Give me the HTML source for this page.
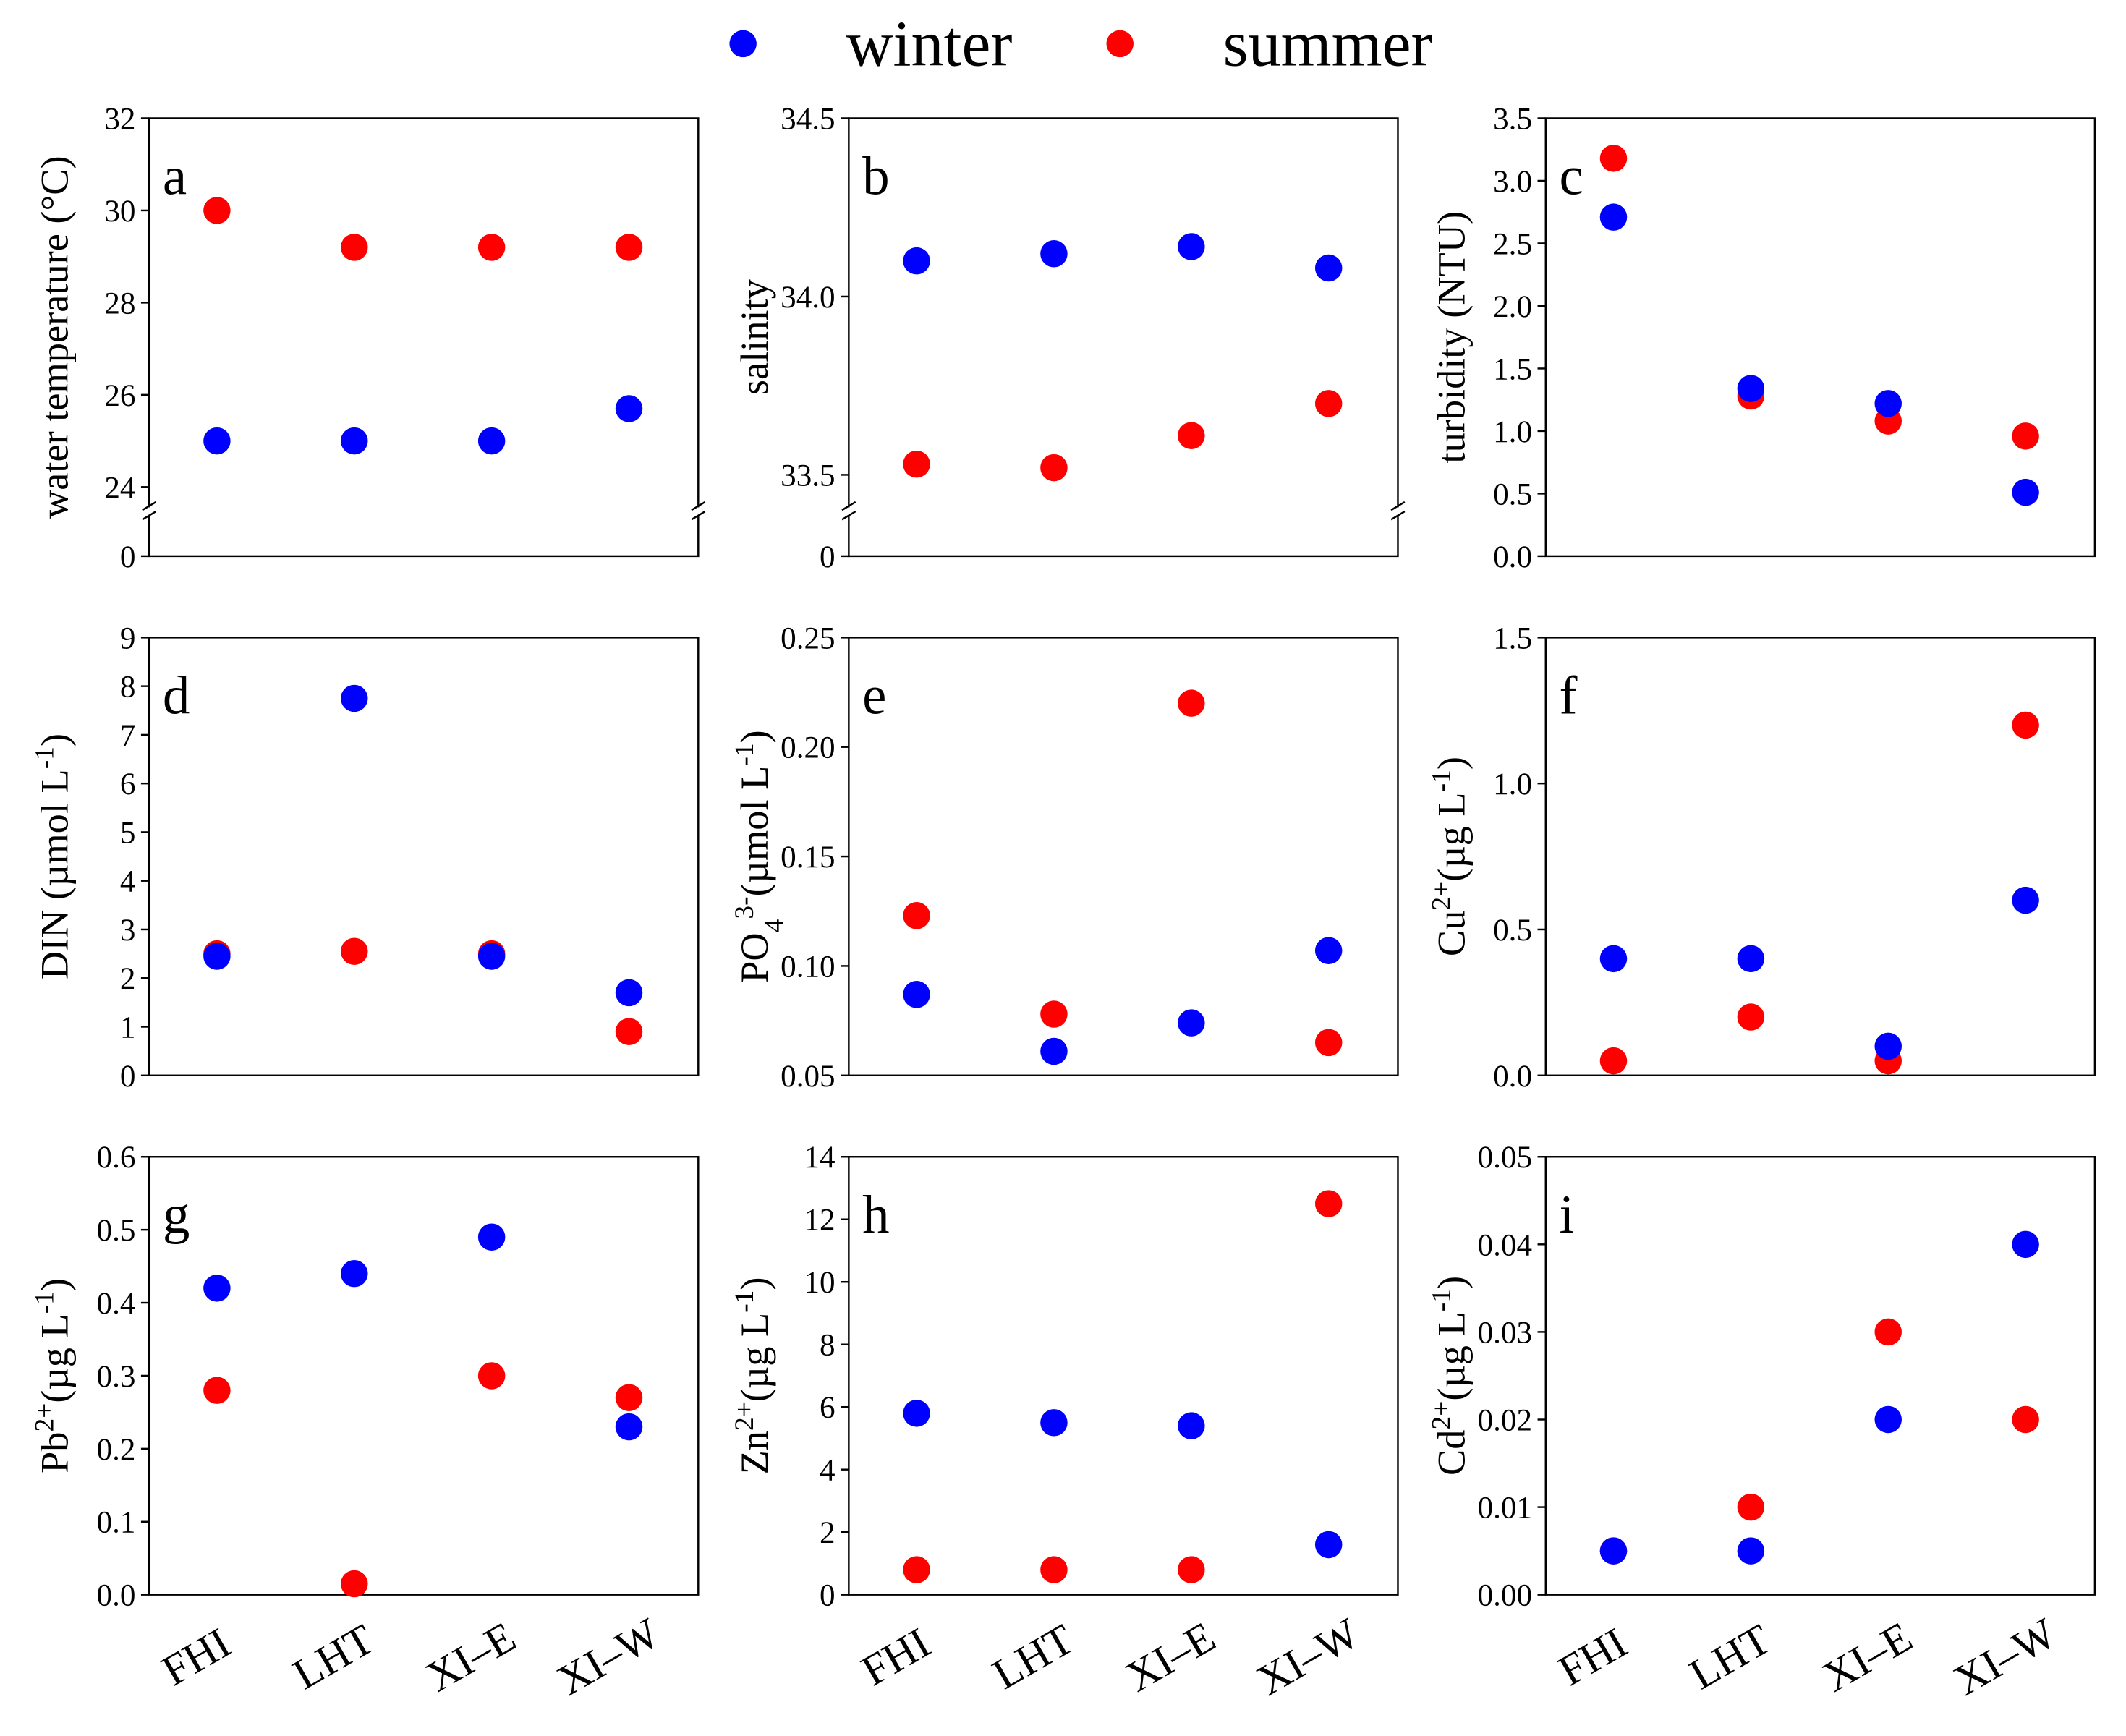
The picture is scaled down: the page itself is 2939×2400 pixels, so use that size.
<!DOCTYPE html>
<html><head><meta charset="utf-8"><style>
html,body{margin:0;padding:0;background:#fff}
svg{display:block}
text{font-family:"Liberation Serif",serif;fill:#000}
</style></head><body>
<svg id="chart" width="2939" height="2400" viewBox="0 0 1568 1280" xmlns="http://www.w3.org/2000/svg">
<g>
<circle cx="548" cy="32" r="10" fill="#0000ff"/>
<text x="624" y="48" font-size="48">winter</text>
<circle cx="826" cy="32" r="10" fill="#ff0000"/>
<text x="902" y="48" font-size="48">summer</text>
</g>
</svg>
<script>
const categories = ["FHI","LHT","XI\u2013E","XI\u2013W"];
const aWinter = [25,25,25,25.7];
const aSummer = [30,29.2,29.2,29.2];
const bWinter = [34.1,34.12,34.14,34.08];
const bSummer = [33.53,33.52,33.61,33.7];
const cWinter = [2.71,1.34,1.22,0.51];
const cSummer = [3.18,1.28,1.08,0.96];
const dWinter = [2.45,7.75,2.45,1.7];
const dSummer = [2.5,2.55,2.5,0.9];
const eWinter = [0.087,0.061,0.074,0.107];
const eSummer = [0.123,0.078,0.22,0.065];
const fWinter = [0.4,0.4,0.1,0.6];
const fSummer = [0.05,0.2,0.05,1.2];
const gWinter = [0.42,0.44,0.49,0.23];
const gSummer = [0.28,0.015,0.3,0.27];
const hWinter = [5.8,5.5,5.4,1.6];
const hSummer = [0.8,0.8,0.8,12.5];
const iWinter = [0.005,0.005,0.02,0.04];
const iSummer = [0.005,0.01,0.03,0.02];
const aTicks = ["24","26","28","30","32"];
const bTicks = ["33.5","34.0","34.5"];
const cTicks = ["0.0","0.5","1.0","1.5","2.0","2.5","3.0","3.5"];
const dTicks = ["0","1","2","3","4","5","6","7","8","9"];
const eTicks = ["0.05","0.10","0.15","0.20","0.25"];
const fTicks = ["0.0","0.5","1.0","1.5"];
const gTicks = ["0.0","0.1","0.2","0.3","0.4","0.5","0.6"];
const hTicks = ["0","2","4","6","8","10","12","14"];
const iTicks = ["0.00","0.01","0.02","0.03","0.04","0.05"];

const NS="http://www.w3.org/2000/svg";
const svg=document.getElementById('chart');
function mk(tag,attrs,parent){const e=document.createElementNS(NS,tag);for(const k in attrs)e.setAttribute(k,attrs[k]);(parent||svg).appendChild(e);return e;}

const cols=[110,626,1140], rows=[87,470,853], W=405, H=323;
const SUP='baseline-shift="super" font-size="20"', SUB='baseline-shift="sub" font-size="20"';
const panels=[
 {id:'a',w:aWinter,s:aSummer,t:aTicks,min:24,max:32,brk:272,label:'water temperature (°C)'},
 {id:'b',w:bWinter,s:bSummer,t:bTicks,min:33.5,max:34.5,brk:263,label:'salinity'},
 {id:'c',w:cWinter,s:cSummer,t:cTicks,min:0,max:3.5,label:'turbidity (NTU)'},
 {id:'d',w:dWinter,s:dSummer,t:dTicks,min:0,max:9,label:`DIN (µmol L<tspan ${SUP}>-1</tspan>)`},
 {id:'e',w:eWinter,s:eSummer,t:eTicks,min:0.05,max:0.25,label:`PO<tspan ${SUB}>4</tspan><tspan ${SUP}>3-</tspan>(µmol L<tspan ${SUP}>-1</tspan>)`},
 {id:'f',w:fWinter,s:fSummer,t:fTicks,min:0,max:1.5,label:`Cu<tspan ${SUP}>2+</tspan>(µg L<tspan ${SUP}>-1</tspan>)`},
 {id:'g',w:gWinter,s:gSummer,t:gTicks,min:0,max:0.6,label:`Pb<tspan ${SUP}>2+</tspan>(µg L<tspan ${SUP}>-1</tspan>)`},
 {id:'h',w:hWinter,s:hSummer,t:hTicks,min:0,max:14,label:`Zn<tspan ${SUP}>2+</tspan>(µg L<tspan ${SUP}>-1</tspan>)`},
 {id:'i',w:iWinter,s:iSummer,t:iTicks,min:0,max:0.05,label:`Cd<tspan ${SUP}>2+</tspan>(µg L<tspan ${SUP}>-1</tspan>)`}
];
panels.forEach((p,k)=>{
 const L=cols[k%3], T=rows[Math.floor(k/3)], B=T+H;
 const g=mk('g',{});
 
 
 const plotBottom = p.brk ? T + p.brk : B;
 const yS=v=>plotBottom-(v-p.min)/(p.max-p.min)*(plotBottom-T);
 const xS=i=>L+50+i*101.3;
 const frame=mk('rect',{x:L,y:T,width:W,height:H,fill:'none',stroke:'#000','stroke-width':1.3},g);
 
 
 const ticks=p.t.map(Number);
 ticks.forEach((v,j)=>{
  const y=yS(v);
  const tk=mk('line',{x1:L-6,x2:L,y1:y,y2:y,stroke:'#000','stroke-width':1.3},g);
  
  
  const tl=mk('text',{x:L-10,y:y+8,'font-size':23,'text-anchor':'end'},g);
  tl.textContent=p.t[j];
  
  
 });
 if(p.brk){
  const tk=mk('line',{x1:L-6,x2:L,y1:B,y2:B,stroke:'#000','stroke-width':1.3},g);
  
  
  const tl=mk('text',{x:L-10,y:B+8,'font-size':23,'text-anchor':'end'},g);
  tl.textContent='0';
  
  
  [L,L+W].forEach(x=>{
   mk('rect',{x:x-6,y:T+287,width:12,height:6,fill:'#fff'},g);
   [T+286,T+293].forEach(yy=>{
    const b=mk('line',{x1:x-5,y1:yy+3,x2:x+5,y2:yy-3,stroke:'#000','stroke-width':1.3},g);
    
    
   });
  });
 }
 const lt=mk('text',{x:L+10,y:T+56,'font-size':40},g);
 lt.textContent=p.id;
 
 
 const yl=mk('text',{x:0,y:0,'font-size':29,'text-anchor':'middle',transform:`translate(${L-60},${T+H/2}) rotate(-90)`},g);
 yl.innerHTML=p.label;
 
 
 p.s.forEach((v,i)=>{
  const c=mk('circle',{cx:xS(i),cy:yS(v),r:10,fill:'#ff0000'},g);
  
  
 });
 p.w.forEach((v,i)=>{
  const c=mk('circle',{cx:xS(i),cy:yS(v),r:10,fill:'#0000ff'},g);
  
  
 });
 if(k>=6){
  categories.forEach((c,i)=>{
   const t=mk('text',{x:0,y:0,'font-size':32,'text-anchor':'middle',transform:`translate(${xS(i)-10},${B+55}) rotate(-30)`},g);
   t.textContent=c;
   
   
  });
 }
});
</script>
</body></html>
